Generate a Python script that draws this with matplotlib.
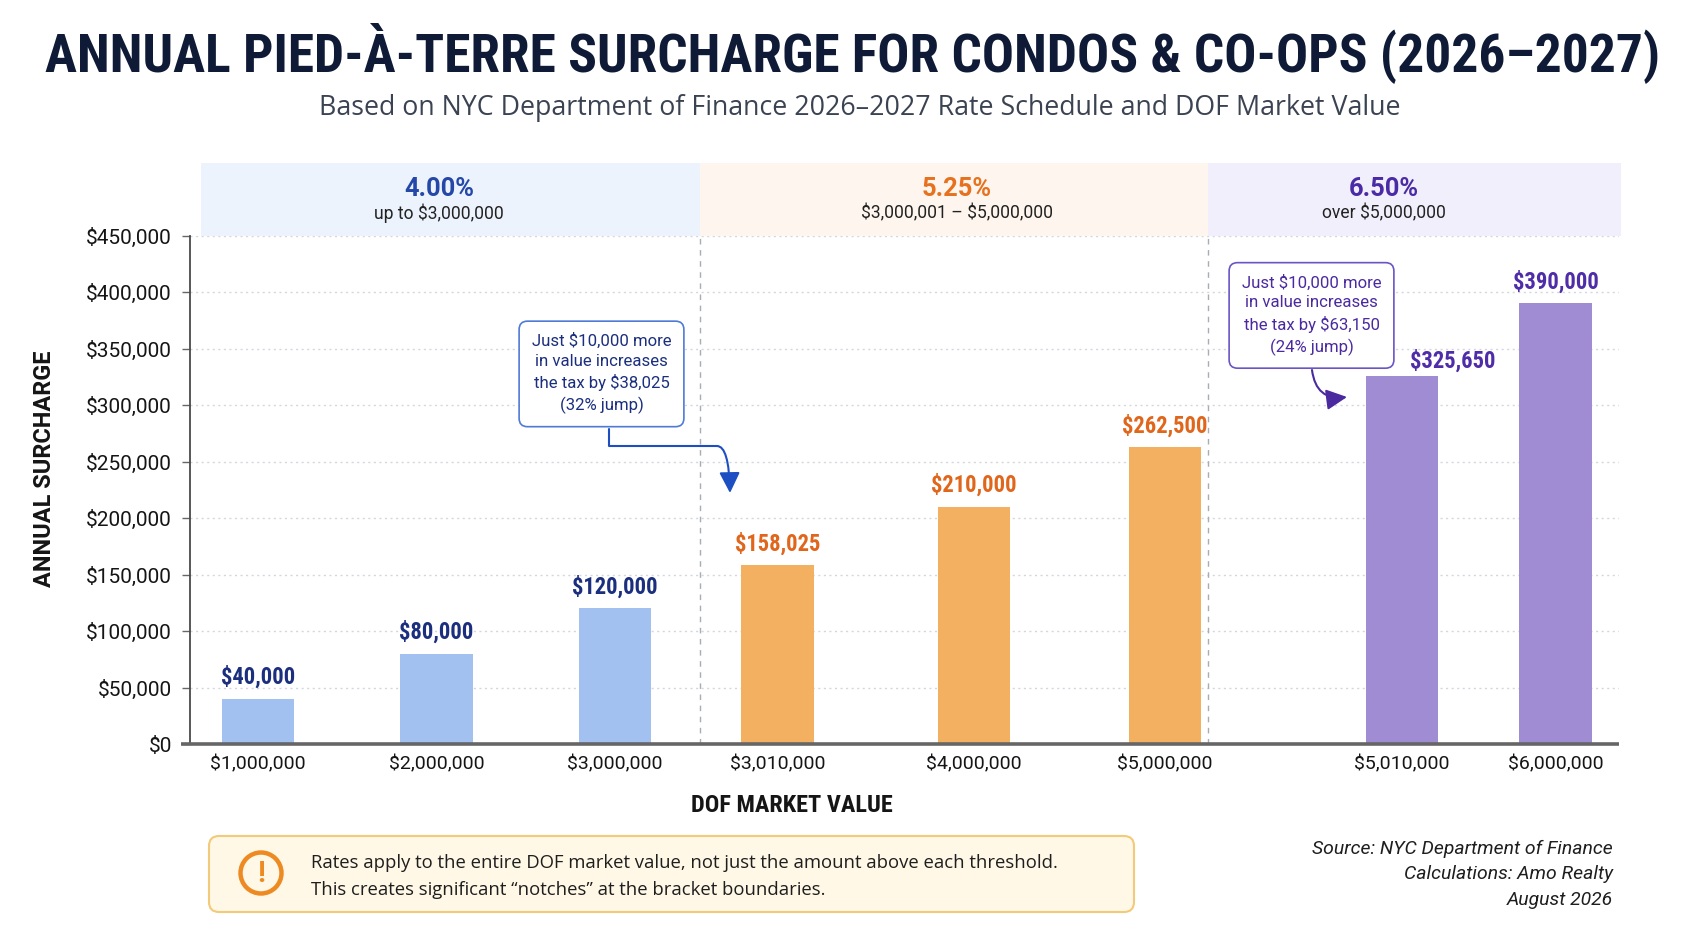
import matplotlib
matplotlib.use("Agg")
import matplotlib.pyplot as plt
import matplotlib.transforms as mtransforms
from matplotlib import font_manager as fm
from matplotlib.patches import Rectangle, FancyBboxPatch, Circle, FancyArrowPatch
from matplotlib.path import Path

# ------------------------- data -------------------------
market_values = ["$1,000,000", "$2,000,000", "$3,000,000", "$3,010,000",
                 "$4,000,000", "$5,000,000", "$5,010,000", "$6,000,000"]
surcharges = [40000, 80000, 120000, 158025, 210000, 262500, 325650, 390000]
bar_bracket = [0, 0, 0, 1, 1, 1, 2, 2]
bracket_rates = ["4.00%", "5.25%", "6.50%"]
bracket_ranges = ["up to $3,000,000", "$3,000,001 \u2013 $5,000,000", "over $5,000,000"]
y_tick_values = [0, 50000, 100000, 150000, 200000, 250000, 300000, 350000, 400000, 450000]
callout_texts = ["Just $10,000 more\nin value increases\nthe tax by $38,025\n(32% jump)",
                 "Just $10,000 more\nin value increases\nthe tax by $63,150\n(24% jump)"]
title = "ANNUAL PIED-\u00c0-TERRE SURCHARGE FOR CONDOS & CO-OPS (2026\u20132027)"
subtitle = "Based on NYC Department of Finance 2026\u20132027 Rate Schedule and DOF Market Value"
x_label = "DOF MARKET VALUE"
y_label = "ANNUAL SURCHARGE"
note_lines = ["Rates apply to the entire DOF market value, not just the amount above each threshold.",
              "This creates significant \u201cnotches\u201d at the bracket boundaries."]
source_lines = ["Source: NYC Department of Finance", "Calculations: Amo Realty", "August 2026"]

# ------------------------- styles -------------------------
bar_colors = ["#A3C1F0", "#F4B061", "#A08CD3"]
label_colors = ["#1B2F7E", "#E0661C", "#4F2DA8"]
rate_colors = ["#2447A8", "#E6711E", "#4B2BA5"]
band_colors = ["#EDF3FD", "#FEF6EE", "#F1EFFB"]
callout_edge = ["#4F7BD6", "#6B55C6"]
callout_text_col = ["#1B2F7E", "#4B2AA0"]
arrow_cols = ["#1E4FC2", "#4B2AA0"]

W, H = 1690, 931
AX_L, AX_R, AX_T, AX_B = 190, 1619, 235.5, 744
X0_PX, UNIT_PX = 258, 178.5
slots = [0, 1, 2, 2.91, 4.01, 5.08, 6.41, 7.27]
band_edges = [-0.322, 2.476, 5.322, 7.636]
bar_width = 0.406
label_offsets = [(0, 15), (0, 15), (0, 15), (0, 15), (0, 15), (0, 15), (51, 8), (0, 15)]


def esc(s):
    return s.replace("$", r"\$")


def pick_condensed():
    names = {f.name for f in fm.fontManager.ttflist}
    if "Roboto Condensed" in names:
        return "Roboto Condensed", "normal"
    for f in fm.fontManager.ttflist:
        fn = f.fname.replace(" ", "")
        if f.name == "Noto Sans" and "Condensed" in fn and "Extra" not in fn and "Semi" not in fn:
            return "Noto Sans", "condensed"
    if "Liberation Sans Narrow" in names:
        return "Liberation Sans Narrow", "normal"
    for f in fm.fontManager.ttflist:
        if "DejaVuSansCondensed" in f.fname:
            return "DejaVu Sans", "condensed"
    return "Roboto", "normal"


COND, COND_ST = pick_condensed()
REG = "Roboto"
SOFT = "Open Sans"
plt.rcParams["font.family"] = [REG, "DejaVu Sans"]


def fx(px):
    return px / W


def fy(py):
    return 1 - py / H


def sx(px):
    return (px - X0_PX) / UNIT_PX


def vy(py):
    return (AX_B - py) * 450000 / (AX_B - AX_T)


fig = plt.figure(figsize=(W / 100, H / 100), dpi=100)
fig.patch.set_facecolor("white")
renderer = fig.canvas.get_renderer()


def fit(t, target, use_height=False):
    for _ in range(3):
        bb = t.get_window_extent(renderer)
        cur = bb.height if use_height else bb.width
        if cur > 0:
            t.set_fontsize(t.get_fontsize() * target / cur)
    return t.get_fontsize()


def measure_size(text, target, **kw):
    t = fig.text(0, 0, esc(text), fontsize=12, **kw)
    s = fit(t, target)
    t.remove()
    return s


ax = fig.add_axes([fx(AX_L), fy(AX_B), (AX_R - AX_L) / W, (AX_B - AX_T) / H])
ax.set_xlim(sx(AX_L), sx(AX_R))
ax.set_ylim(0, 450000)

# grid
for v in y_tick_values[1:]:
    ax.axhline(v, color="#D3D7DD", lw=1.0, ls=(0, (1.5, 2.5)), zorder=1)

# bracket separators
for b in band_edges[1:3]:
    ax.axvline(b, color="#A8ACB3", lw=1.0, ls=(0, (4, 4)), zorder=2)

# bars
ax.bar(slots, surcharges, width=bar_width,
       color=[bar_colors[b] for b in bar_bracket], zorder=3)

# bar labels
bl_size = measure_size("$120,000", 86, family=[COND, REG], fontstretch=COND_ST, weight="semibold")
for s, v, b, off in zip(slots, surcharges, bar_bracket, label_offsets):
    ax.annotate(esc(f"${v:,}"), (s, v), xytext=off, textcoords="offset pixels",
                ha="center", va="baseline", color=label_colors[b], fontsize=bl_size,
                family=[COND, REG], fontstretch=COND_ST, weight="semibold", zorder=6)

# spines and ticks
for sp in ["top", "right", "bottom"]:
    ax.spines[sp].set_visible(False)
ax.spines["left"].set_color("#4A4A4A")
ax.spines["left"].set_linewidth(1.3)
ax.plot([-9 / (AX_R - AX_L), 1], [0, 0], transform=ax.transAxes, color="#666666",
        lw=2.6, clip_on=False, zorder=4, solid_capstyle="butt")

ax.set_yticks(y_tick_values)
ax.set_yticklabels([esc(f"${v:,}") for v in y_tick_values])
ax.tick_params(axis="y", length=6, width=1, color="#666666", pad=7,
               labelsize=15, labelcolor="#151515")
ax.set_xticks(slots)
ax.set_xticklabels([esc(m) for m in market_values])
ax.tick_params(axis="x", length=0, pad=8, labelsize=14, labelcolor="#151515")

# bracket header bands
trans = mtransforms.blended_transform_factory(ax.transData, ax.transAxes)
band_h = (AX_B - AX_T)
for i in range(3):
    ax.add_patch(Rectangle((band_edges[i], 1.0), band_edges[i + 1] - band_edges[i],
                           (AX_T - 163) / band_h, transform=trans, clip_on=False,
                           facecolor=band_colors[i], edgecolor="none", zorder=0))

rate_x = [439, 957, 1384]
rate_size = measure_size("4.00%", 70, weight="bold")
range_size = measure_size("up to $3,000,000", 129)
for i in range(3):
    fig.text(fx(rate_x[i]), fy(189), bracket_rates[i], ha="center", va="center",
             fontsize=rate_size, weight="bold", color=rate_colors[i])
    fig.text(fx(rate_x[i]), fy(213), esc(bracket_ranges[i]), ha="center", va="center",
             fontsize=range_size, color="#222222")

# callouts
call_size = measure_size("Just $10,000 more", 139)
call_pos = [(sx(601.5), vy(373.5)), (sx(1311.5), vy(315))]
for i in range(2):
    ax.text(call_pos[i][0], call_pos[i][1], esc(callout_texts[i]), ha="center", va="center",
            fontsize=call_size, color=callout_text_col[i], linespacing=1.4, zorder=7,
            bbox=dict(boxstyle="round,pad=0.75,rounding_size=0.5", fc="white",
                      ec=callout_edge[i], lw=1.2))

# arrow 1: elbow then curve down
verts = [(sx(609), vy(429)), (sx(609), vy(446)), (sx(717), vy(446)),
         (sx(729), vy(446)), (sx(730), vy(493))]
codes = [Path.MOVETO, Path.LINETO, Path.LINETO, Path.CURVE3, Path.CURVE3]
arr1 = FancyArrowPatch(path=Path(verts, codes), arrowstyle="-|>,head_length=0.7,head_width=0.35",
                       mutation_scale=18, color=arrow_cols[0], lw=1.5, zorder=7,
                       transform=ax.transData)
ax.add_patch(arr1)
arr2 = FancyArrowPatch((sx(1312), vy(370)), (sx(1347), vy(397)),
                       connectionstyle="arc3,rad=0.5",
                       arrowstyle="-|>,head_length=0.7,head_width=0.35",
                       mutation_scale=18, color=arrow_cols[1], lw=1.5, zorder=7,
                       shrinkA=0, shrinkB=0)
ax.add_patch(arr2)

# titles
t = fig.text(fx(852.5), fy(71), title, ha="center", va="baseline", fontsize=40,
             family=[COND, REG], fontstretch=COND_ST, weight="heavy", color="#0E1A36")
fit(t, 1613)
t = fig.text(fx(860), fy(115), subtitle, ha="center", va="baseline", fontsize=18,
             family=[SOFT, REG], color="#3B4352")
fit(t, 1085)

# axis labels
t = fig.text(fx(45), fy(469), y_label, rotation=90, ha="center", va="center",
             fontsize=16, weight="bold", color="#151515")
fit(t, 236, use_height=True)
t = fig.text(fx(792), fy(805), x_label, ha="center", va="center", fontsize=15,
             family=[COND, REG], fontstretch=COND_ST, weight="bold", color="#151515")
fit(t, 201)

# note box
dpi = 100.0
note = FancyBboxPatch((209 / dpi, (H - 912) / dpi), (1134 - 209) / dpi, (912 - 836) / dpi,
                      boxstyle="round,pad=0,rounding_size=0.1", transform=fig.dpi_scale_trans,
                      fc="#FFF8E7", ec="#F2CB7A", lw=1.5)
fig.add_artist(note)
ring = Circle((261 / dpi, (H - 873) / dpi), 0.205, transform=fig.dpi_scale_trans,
              fill=False, ec="#EE8A22", lw=3.2)
fig.add_artist(ring)
fig.text(fx(261), fy(874), "!", ha="center", va="center", fontsize=21, weight="bold",
         color="#EE8A22")
note_size = measure_size(note_lines[0], 750, family=[SOFT, REG])
for line, yy in zip(note_lines, [863, 890]):
    fig.text(fx(311), fy(yy), line, ha="left", va="center", fontsize=note_size,
             family=[SOFT, REG], color="#1E1E1E")

# source
src_size = measure_size(source_lines[0], 301, style="italic")
for line, yy in zip(source_lines, [849, 874, 900]):
    fig.text(fx(1613), fy(yy), line, ha="right", va="center", fontsize=src_size,
             style="italic", color="#1E1E1E")

fig.savefig("out.png", dpi=100, facecolor="white")
